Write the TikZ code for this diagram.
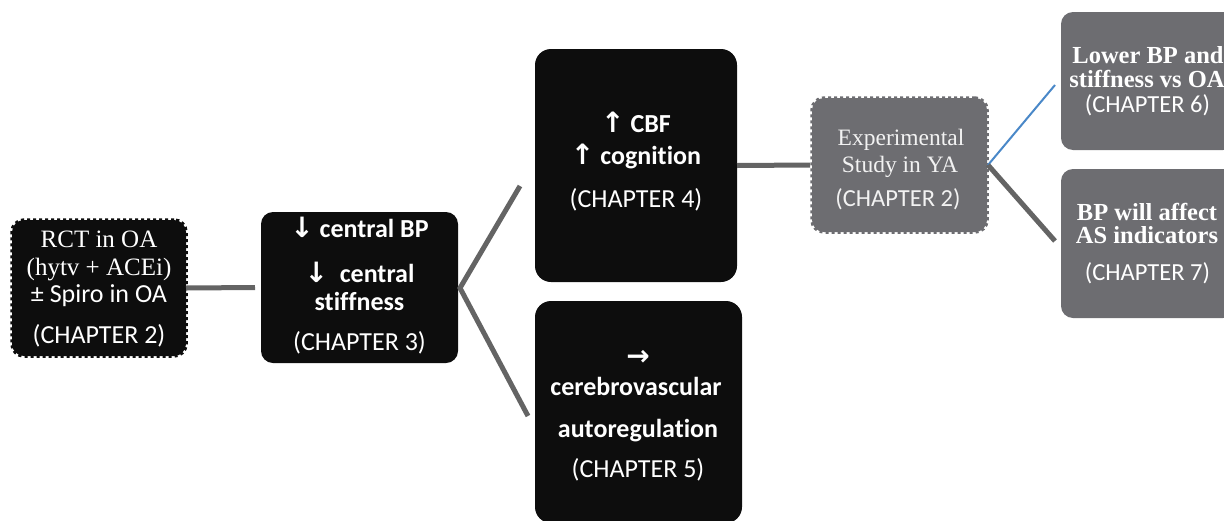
\documentclass[tikz,border=0pt]{standalone}
\usepackage{fontspec}
\setmainfont{Liberation Serif}
\newfontfamily\calfont{Carlito}[Ligatures=NoCommon]
\newfontfamily\arrfont{DejaVu Sans}
\definecolor{boxblack}{HTML}{0D0D0D}
\definecolor{boxgray}{HTML}{6D6D71}
\definecolor{linegray}{HTML}{646464}
\definecolor{linkblue}{HTML}{4A88C8}
\definecolor{softwhite}{HTML}{F2F2F2}
\newcommand{\myarrow}[1]{{\arrfont\fontsize{28}{30}\selectfont #1}}
\tikzset{
  blkbox/.style={rectangle, rounded corners=12pt, fill=boxblack, inner sep=0pt, outer sep=0pt},
  grybox/.style={rectangle, rounded corners=12pt, fill=boxgray, inner sep=0pt, outer sep=0pt},
  perforated/.style={draw=#1, line width=3.5pt, dash pattern=on 3pt off 3pt},
  conn/.style={draw=linegray, line width=5pt},
  bluelink/.style={draw=linkblue, line width=2pt},
  tx/.style={anchor=base, inner sep=0pt, outer sep=0pt, text=white},
  sansr/.style={font=\calfont\fontsize{26}{30}\selectfont},
  sansb/.style={font=\calfont\bfseries\fontsize{26}{30}\selectfont},
  sanss/.style={font=\calfont\fontsize{24.5}{28}\selectfont},
  serifr/.style={font=\fontsize{25}{30}\selectfont},
  serifs/.style={font=\fontsize{23.5}{28}\selectfont},
  serifb/.style={font=\bfseries\fontsize{24.5}{28}\selectfont},
}
\begin{document}
\begin{tikzpicture}[x=1pt,y=-1pt]
\useasboundingbox (0,0) rectangle (1224,520);
\clip (0,0) rectangle (1224,520);

% boxes
\node[blkbox, perforated=boxblack, minimum width=174pt, minimum height=136pt] (rct) at (99,288) {};
\node[blkbox, minimum width=197pt, minimum height=151pt] (cbp) at (359.5,287.5) {};
\node[blkbox, rounded corners=16pt, minimum width=202pt, minimum height=233pt] (cbf) at (636,165.5) {};
\node[blkbox, rounded corners=16pt, minimum width=207pt, minimum height=222pt] (cva) at (638.5,412) {};
\node[grybox, perforated=boxgray, minimum width=175pt, minimum height=134pt] (exp) at (899.5,165) {};
\node[grybox, minimum width=174pt, minimum height=138pt] (low) at (1148,81) {};
\node[grybox, minimum width=174pt, minimum height=149pt] (aff) at (1148,243.5) {};

% connectors
\coordinate (cbpv) at (460,288);
\coordinate (upend) at (520,186);
\coordinate (downend) at (528,416);
\coordinate (expv) at (988,165);
\coordinate (blueend) at (1055,85);
\coordinate (grayend) at (1055,241);
\draw[conn] (rct.east) -- ([xshift=-6pt]cbp.west);
\draw[conn, line join=miter] (upend) -- (cbpv) -- (downend);
\draw[conn] (cbf.east) -- ([xshift=-2pt]exp.west);
\draw[bluelink] (expv) -- (blueend);
\draw[conn] (expv) -- (grayend);

% texts: RCT
\node[tx, serifr] (rct1) at (99,247) {RCT in OA};
\node[tx, serifr] (rct2) at (99,275) {(hytv + ACEi)};
\node[tx, sansr] (rct3) at (99,302) {± Spiro in OA};
\node[tx, sansr] (rct4) at (99,343) {(CHAPTER 2)};

% central BP
\node[tx, sansb] (cbp1) at (359.5,237) {\myarrow{↓} central BP};
\node[tx, sansb] (cbp2) at (359.5,282) {\myarrow{↓}\ \ central};
\node[tx, sansb] (cbp3) at (359.5,310) {stiffness};
\node[tx, sansr] (cbp4) at (359.5,350) {(CHAPTER 3)};

% CBF
\node[tx, sansb] (cbf1) at (636,132) {\myarrow{↑} CBF};
\node[tx, sansb] (cbf2) at (636,164) {\myarrow{↑} cognition};
\node[tx, sansr] (cbf3) at (636,207) {(CHAPTER 4)};

% cerebrovascular
\node[tx, sansb] (cva1) at (638,365) {\myarrow{→}};
\node[tx, sansb] (cva2) at (636,395) {cerebrovascular};
\node[tx, sansb] (cva3) at (638,437) {autoregulation};
\node[tx, sansr] (cva4) at (638,477) {(CHAPTER 5)};

% experimental
\node[tx, serifs, text=softwhite] (exp1) at (901,145) {Experimental};
\node[tx, serifs, text=softwhite] (exp2) at (900,172) {Study in YA};
\node[tx, sanss, text=softwhite] (exp3) at (898,206) {(CHAPTER 2)};

% chapter 6
\node[tx, serifb] (low1) at (1148,63) {Lower BP and};
\node[tx, serifb] (low2) at (1147,87) {stiffness vs OA};
\node[tx, sanss] (low3) at (1147.5,112) {(CHAPTER 6)};

% chapter 7
\node[tx, serifb] (aff1) at (1147,220) {BP will affect};
\node[tx, serifb] (aff2) at (1147,243) {AS indicators};
\node[tx, sanss] (aff3) at (1147.5,280) {(CHAPTER 7)};
\end{tikzpicture}
\end{document}
